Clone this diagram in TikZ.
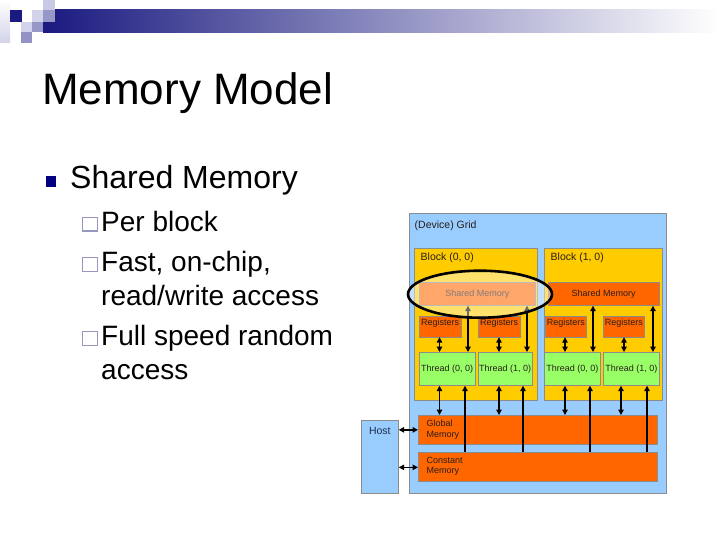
\documentclass[tikz,border=0pt]{standalone}
\usepackage{fontspec}
\setmainfont{Liberation Sans}
\usepackage{xcolor}
\usetikzlibrary{arrows.meta,shapes.geometric}

\definecolor{navybar}{RGB}{26,26,128}
\definecolor{barmid}{RGB}{160,160,186}
\definecolor{sqmid}{RGB}{152,152,200}
\definecolor{sqpale}{RGB}{210,210,234}
\definecolor{bulletnavy}{RGB}{0,0,128}
\definecolor{subsq}{RGB}{150,150,190}
\definecolor{gridblue}{RGB}{153,204,255}
\definecolor{blockyellow}{RGB}{255,204,0}
\definecolor{memorange}{RGB}{255,102,0}
\definecolor{threadgreen}{RGB}{153,255,102}
\definecolor{boxedge}{RGB}{140,140,140}
\definecolor{labeltext}{RGB}{40,30,25}
\definecolor{hosttext}{RGB}{30,45,80}

\begin{document}
\begin{tikzpicture}[x=1pt,y=1pt,yscale=-1,
  box/.style={draw=boxedge,line width=0.7pt,inner sep=0pt,anchor=north west},
  lbl/.style={inner sep=0pt,text=labeltext,font=\fontsize{9}{10.5}\selectfont},
  bigl/.style={inner sep=0pt,text=labeltext,font=\fontsize{10.5}{12}\selectfont},
  subtxt/.style={anchor=base west,inner sep=0pt,align=left,font=\fontsize{28}{33.3}\selectfont},
  dbl/.style={line width=1.3pt,{Triangle[length=5.5pt,width=5.5pt]}-{Triangle[length=5.5pt,width=5.5pt]}},
  sgl/.style={line width=1.3pt,-{Triangle[length=5.5pt,width=5.5pt]}}]
\useasboundingbox (0,0) rectangle (720,540);
\fill[white] (0,0) rectangle (720,540);

%Title bar
\shade[top color=white, bottom color=sqpale] (0,0) rectangle (10,43);
\shade[left color=navybar, middle color=barmid, right color=white] (43,10) rectangle (720,33);
\fill[navybar] (10,10) rectangle (22,22);
\fill[sqpale] (32,10) rectangle (43,22);
\fill[sqpale!85!sqmid] (43,0) rectangle (55,10);
\fill[sqmid] (43,10) rectangle (55,22);
\fill[sqpale] (21,22) rectangle (32,32);
\fill[sqmid] (32,22) rectangle (43,32);
\fill[sqmid!95!navybar] (21,32) rectangle (32,43);

% Text Node
\node[anchor=base west,inner sep=0pt,font=\fontsize{44}{50}\selectfont] (title) at (42,105) {Memory Model};

%Bullets
\fill[bulletnavy] (46,176) rectangle (56,187);
\node[anchor=base west,inner sep=0pt,font=\fontsize{32}{38}\selectfont] (shmem) at (70,188.3) {Shared Memory};
\draw[subsq,line width=1.2pt] (82.3,217.3) rectangle (97.1,231.1);
\draw[subsq,line width=1.2pt] (82.3,257.3) rectangle (97.1,271.1);
\draw[subsq,line width=1.2pt] (82.3,331.3) rectangle (97.1,345.1);
% Text Node
\node[subtxt] (perblock) at (101,231.7) {Per block};
% Text Node (base = last line)
\node[subtxt] (fast) at (101,305) {Fast, on-chip,\\read/write access};
% Text Node (base = last line)
\node[subtxt] (fullspeed) at (101,379) {Full speed random\\access};

%Rect grid and host
\node[box,fill=gridblue,minimum width=257,minimum height=279.5] (grid) at (408.5,213.5) {};
\node[box,fill=gridblue,minimum width=37,minimum height=73] (host) at (361,420) {};
%Rect blocks
\node[box,fill=blockyellow,minimum width=123,minimum height=152.5] (blk0) at (414,247.5) {};
\node[box,fill=blockyellow,minimum width=118,minimum height=152.5] (blk1) at (543.5,247.5) {};
%Rect shared memory
\node[box,fill=memorange,minimum width=116,minimum height=23,lbl] (sh0) at (419,282) {Shared Memory};
\node[box,fill=memorange,minimum width=111.5,minimum height=23,lbl] (sh1) at (547.5,282) {Shared Memory};
%Rect registers
\node[box,fill=memorange,minimum width=42.5,minimum height=20.5] (reg00) at (418.5,316) {};
\node[box,fill=memorange,minimum width=41.5,minimum height=20.5] (reg01) at (478,316) {};
\node[box,fill=memorange,minimum width=41,minimum height=20.5] (reg10) at (545,316) {};
\node[box,fill=memorange,minimum width=41,minimum height=20.5] (reg11) at (603,316) {};
%Rect threads
\node[box,fill=threadgreen,minimum width=56.5,minimum height=33,lbl] (thr00) at (418.5,352) {Thread (0, 0)};
\node[box,fill=threadgreen,minimum width=53.5,minimum height=33,lbl] (thr01) at (478,352) {Thread (1, 0)};
\node[box,fill=threadgreen,minimum width=56,minimum height=33,lbl] (thr10) at (544,352) {Thread (0, 0)};
\node[box,fill=threadgreen,minimum width=56,minimum height=33,lbl] (thr11) at (603,352) {Thread (1, 0)};
%Rect global and constant memory
\node[box,fill=memorange,minimum width=239,minimum height=29] (glob) at (418,415) {};
\node[box,fill=memorange,minimum width=239,minimum height=29] (cmem) at (418,451.5) {};

% Text Node
\node[bigl,anchor=base west] (gridtxt) at (414.5,228.3) {(Device) Grid};
% Text Node
\node[bigl,anchor=base west] (blk0txt) at (420.5,260) {Block (0, 0)};
% Text Node
\node[bigl,anchor=base west] (blk1txt) at (550.5,260) {Block (1, 0)};
% Text Node
\node[bigl,anchor=base,text=hosttext] (hosttxt) at ([yshift=14.5pt]host.north) {Host};
% Text Node
\node[lbl,anchor=north] (reg00txt) at ([yshift=2.5pt]reg00.north) {Registers};
\node[lbl,anchor=north] (reg01txt) at ([yshift=2.5pt]reg01.north) {Registers};
\node[lbl,anchor=north] (reg10txt) at ([yshift=2.5pt]reg10.north) {Registers};
\node[lbl,anchor=north] (reg11txt) at ([yshift=2.5pt]reg11.north) {Registers};
% Text Node
\node[lbl,anchor=west,align=left] (globtxt) at ([xshift=8.5pt]glob.west) {Global\\Memory};
% Text Node
\node[lbl,anchor=west,align=left] (cmemtxt) at ([xshift=8.5pt]cmem.west) {Constant\\Memory};

%Straight Lines columns
\coordinate (a00) at ([xshift=21pt]thr00.north west);
\coordinate (a01) at ([xshift=21pt]thr01.north west);
\coordinate (a10) at ([xshift=21pt]thr10.north west);
\coordinate (a11) at ([xshift=21pt]thr11.north west);
\coordinate (b00) at ([xshift=49.5pt]thr00.north west);
\coordinate (b01) at ([xshift=49pt]thr01.north west);
\coordinate (b10) at ([xshift=49pt]thr10.north west);
\coordinate (b11) at ([xshift=50pt]thr11.north west);
\coordinate (c00) at ([xshift=46.5pt]thr00.south west);
\coordinate (c01) at ([xshift=45pt]thr01.south west);
\coordinate (c10) at ([xshift=46pt]thr10.south west);
\coordinate (c11) at ([xshift=44pt]thr11.south west);

%Straight Lines registers - threads
\draw[dbl] (a00 |- reg00.south) -- (a00);
\draw[dbl] (a01 |- reg01.south) -- (a01);
\draw[dbl] (a10 |- reg10.south) -- (a10);
\draw[dbl] (a11 |- reg11.south) -- (a11);
%Straight Lines shared memory - threads
\draw[dbl] (b00 |- sh0.south) -- (b00);
\draw[dbl] (b01 |- sh0.south) -- (b01);
\draw[dbl] (b10 |- sh1.south) -- (b10);
\draw[dbl] (b11 |- sh1.south) -- (b11);
%Straight Lines threads - global memory
\draw[dbl] (a00 |- thr00.south) -- (a00 |- glob.north);
\draw[dbl] (a01 |- thr01.south) -- (a01 |- glob.north);
\draw[dbl] (a10 |- thr10.south) -- (a10 |- glob.north);
\draw[dbl] ([xshift=-3pt]a11 |- thr11.south) -- ([xshift=-3pt]a11 |- glob.north);
%Straight Lines constant memory - threads
\draw[sgl] (c00 |- cmem.north) -- (c00);
\draw[sgl] (c01 |- cmem.north) -- (c01);
\draw[sgl] (c10 |- cmem.north) -- (c10);
\draw[sgl] (c11 |- cmem.north) -- (c11);
%Straight Lines host
\draw[dbl] (glob.west -| host.east) -- (glob.west);
\draw[dbl] ([yshift=1pt]cmem.west -| host.east) -- ([yshift=1pt]cmem.west);

%Ellipse highlight
\node[draw=black,line width=2.6pt,ellipse,fill=white,fill opacity=0.42,draw opacity=1,minimum width=144,minimum height=47,inner sep=0pt] (hilite) at (480,294.2) {};

\end{tikzpicture}
\end{document}
